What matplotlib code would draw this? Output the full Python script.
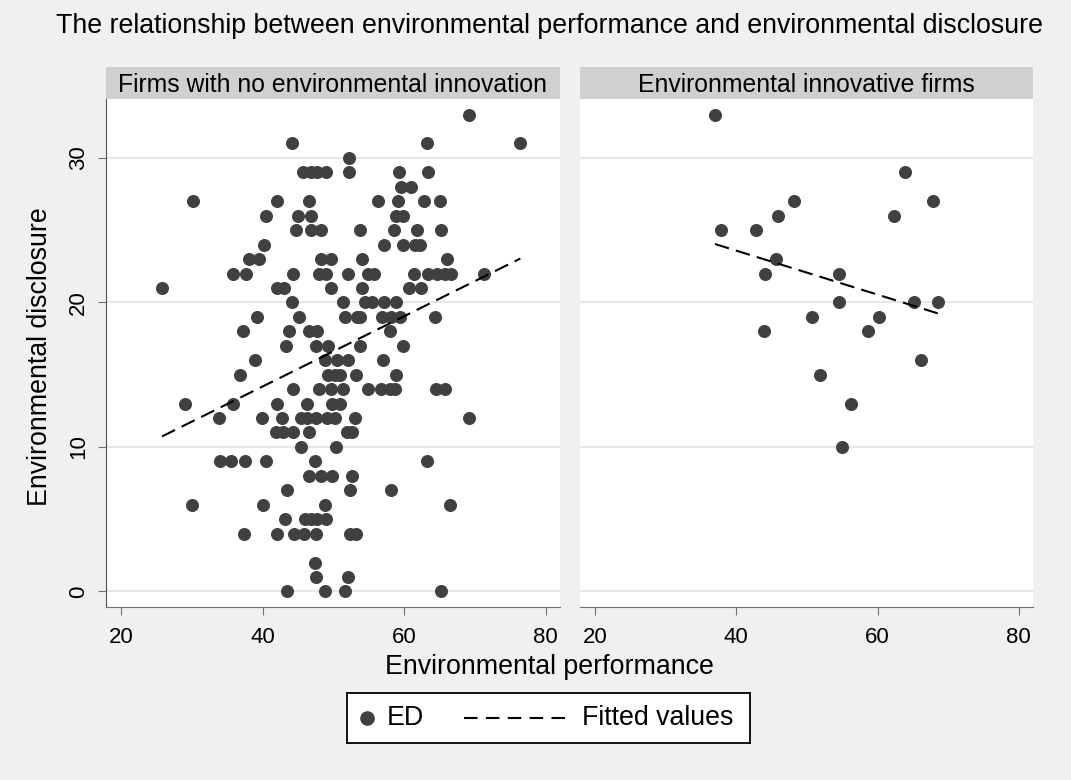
import matplotlib
matplotlib.use("Agg")
import matplotlib.pyplot as plt
import numpy as np

# ED value -> EP values, firms with no environmental innovation
no_innov = {
    33: [69.2],
    31: [44.2, 63.2, 76.4],
    30: [52.2],
    29: [45.7, 46.9, 47.7, 49.0, 52.2, 59.3, 63.4],
    28: [59.6, 61.0],
    27: [30.2, 42.0, 46.6, 56.3, 59.1, 62.8, 65.1],
    26: [40.5, 45.0, 46.9, 58.9, 59.8],
    25: [44.7, 46.8, 48.3, 53.8, 58.6, 61.8, 65.2],
    24: [40.2, 57.1, 59.8, 61.5, 62.2],
    23: [38.1, 39.5, 48.3, 49.6, 54.0, 66.0],
    22: [35.9, 37.7, 44.3, 48.0, 49.0, 52.1, 54.9, 55.8, 61.4, 63.4, 64.6, 65.8, 66.6, 71.3],
    21: [25.8, 42.1, 43.0, 49.6, 54.0, 60.7, 62.4],
    20: [44.1, 51.3, 54.5, 55.5, 57.2, 58.8],
    19: [39.2, 45.2, 51.6, 53.3, 53.7, 56.8, 58.2, 59.4, 64.4],
    18: [37.3, 43.8, 46.6, 47.7, 58.0],
    17: [43.3, 47.6, 49.2, 53.8, 59.8],
    16: [39.0, 48.8, 50.5, 52.1, 57.0],
    15: [36.8, 49.2, 50.2, 51.0, 53.2, 58.9],
    14: [44.3, 48.0, 49.6, 51.4, 54.9, 56.7, 58.0, 58.7, 64.5, 65.7],
    13: [29.0, 35.9, 42.0, 46.3, 49.8, 51.0],
    12: [33.9, 39.9, 42.7, 45.4, 46.3, 47.6, 49.1, 50.2, 53.0, 69.2],
    11: [41.9, 42.9, 44.3, 46.5, 51.9, 52.7],
    10: [45.4, 50.4],
    9: [34.0, 35.5, 37.5, 40.5, 47.4, 63.2],
    8: [46.6, 48.3, 49.8, 52.6],
    7: [43.5, 52.4, 58.1],
    6: [30.0, 40.1, 48.8, 66.5],
    5: [43.2, 46.0, 46.9, 47.7, 49.0],
    4: [37.4, 42.1, 44.5, 45.9, 47.5, 52.3, 53.2],
    2: [47.4],
    1: [47.6, 52.1],
    0: [43.5, 48.8, 51.6, 65.2],
}
ep_left = np.array([x for k, v in no_innov.items() for x in v])
ed_left = np.array([k for k, v in no_innov.items() for x in v], dtype=float)

# environmental innovative firms
ep_right = np.array([37.0, 63.9, 48.2, 67.9, 45.9, 62.4, 37.8, 42.8, 45.7, 44.1, 54.5,
                     54.6, 65.2, 68.6, 50.7, 60.2, 44.0, 58.7, 66.2, 51.9, 56.2, 55.0])
ed_right = np.array([33, 29, 27, 27, 26, 26, 25, 25, 23, 22, 22,
                     20, 20, 20, 19, 19, 18, 18, 16, 15, 13, 10], dtype=float)

panel_titles = ["Firms with no environmental innovation", "Environmental innovative firms"]
legend_labels = ["ED", "Fitted values"]
xticks = [20, 40, 60, 80]
yticks = [0, 10, 20, 30]

plt.rcParams['font.family'] = ['Liberation Sans', 'DejaVu Sans']
bg = '#f0f0f0'
dot = '#404040'
dash = (7, 3.5)

fig = plt.figure(figsize=(10.71, 7.8), dpi=100, facecolor=bg)
W, H = 1071, 780

panels = [(106, 560), (580, 1033)]
top, bottom, strip_top = 98.7, 607.3, 67.3
data = [(ep_left, ed_left), (ep_right, ed_right)]

for i, ((x0, x1), (ep, ed)) in enumerate(zip(panels, data)):
    ax = fig.add_axes([x0 / W, 1 - bottom / H, (x1 - x0) / W, (bottom - top) / H])
    ax.set_facecolor('white')
    ax.scatter(ep, ed, s=88, color=dot, linewidths=0, zorder=3)
    b, a = np.polyfit(ep, ed, 1)
    xs = np.array([ep.min(), ep.max()])
    ax.plot(xs, a + b * xs, color='black', lw=1.5, dashes=dash, zorder=4)
    ax.set_xlim(17.9, 82.0)
    ax.set_ylim(-1.1, 34.1)
    ax.set_xticks(xticks)
    ax.set_yticks(yticks)
    ax.grid(axis='y', color='#e6e6e6', lw=1.4, zorder=0)
    ax.set_axisbelow(True)
    for s in ['top', 'right']:
        ax.spines[s].set_visible(False)
    ax.spines['bottom'].set_color('#707070')
    ax.spines['left'].set_color('#505050')
    ax.tick_params(axis='both', labelsize=16, length=6, color='#707070')
    ax.tick_params(axis='x', pad=8)
    ax.tick_params(axis='y', labelrotation=90, pad=6)
    for lab in ax.get_yticklabels():
        lab.set_va('center')
    if i == 1:
        ax.spines['left'].set_visible(False)
        ax.tick_params(axis='y', left=False, labelleft=False)

    sax = fig.add_axes([x0 / W, 1 - top / H, (x1 - x0) / W, (top - strip_top) / H])
    sax.set_facecolor('#d0d0d0')
    sax.set_xticks([])
    sax.set_yticks([])
    for s in sax.spines.values():
        s.set_visible(False)
    sax.text(0.5, 0.45, panel_titles[i], ha='center', va='center', fontsize=17.8,
             transform=sax.transAxes)

fig.text(550 / W, 1 - 26 / H, "The relationship between environmental performance and environmental disclosure",
         ha='center', va='center', fontsize=19.3)
fig.text(549 / W, 1 - 667 / H, "Environmental performance", ha='center', va='center', fontsize=19.3)
fig.text(40 / W, 1 - 357 / H, "Environmental disclosure", ha='center', va='center',
         fontsize=19.3, rotation=90)

# legend box, drawn by hand to match the Stata layout
lx0, lx1, ly0, ly1 = 347, 750, 693.3, 742.7
lax = fig.add_axes([lx0 / W, 1 - ly1 / H, (lx1 - lx0) / W, (ly1 - ly0) / H])
lax.set_xlim(lx0, lx1)
lax.set_ylim(ly1, ly0)
lax.set_facecolor('white')
lax.set_xticks([])
lax.set_yticks([])
for s in lax.spines.values():
    s.set_color('black')
    s.set_linewidth(1.3)
ymid = (ly0 + ly1) / 2
lax.plot([366.5], [ymid], 'o', color=dot, markersize=9.5)
lax.text(387, ymid, legend_labels[0], ha='left', va='center', fontsize=19.3)
lax.plot([464, 567], [ymid, ymid], color='black', lw=1.5, dashes=(6.5, 4))
lax.text(582, ymid, legend_labels[1], ha='left', va='center', fontsize=19.3)

fig.savefig('out.png', dpi=100, facecolor=bg)
